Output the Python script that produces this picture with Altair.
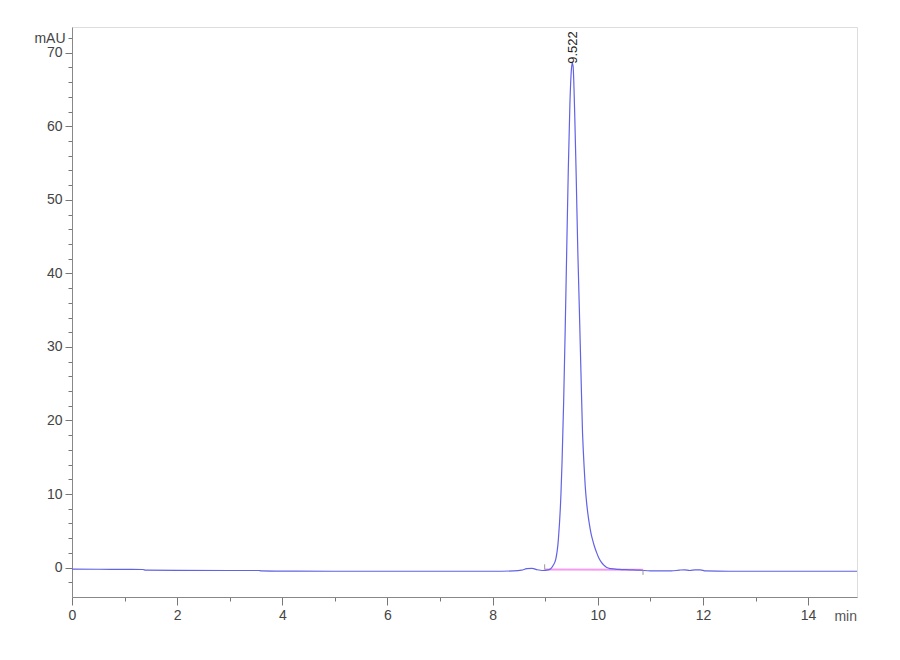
import altair as alt
import pandas as pd

# Chromatogram trace (time in min, absorbance in mAU)
time_min = [0.0, 0.5, 1.0, 1.35, 1.4, 2.0, 3.0, 3.55, 3.6, 4.0, 5.0, 6.0, 7.0, 8.0,
            8.4, 8.55, 8.65, 8.75, 8.85, 8.95, 9.0, 9.05, 9.10, 9.15, 9.20, 9.25,
            9.30, 9.32, 9.35, 9.38, 9.41, 9.44, 9.47, 9.50, 9.515, 9.53, 9.56, 9.59,
            9.62, 9.65, 9.68, 9.71, 9.725, 9.74, 9.76, 9.785, 9.81, 9.84, 9.87, 9.90,
            9.94, 9.98, 10.02, 10.07, 10.12, 10.17, 10.25, 10.4, 10.6, 10.8, 11.0,
            11.4, 11.55, 11.65, 11.75, 11.85, 11.95, 12.05, 12.5, 13.5, 14.93]
mau = [-0.22, -0.23, -0.25, -0.26, -0.35, -0.37, -0.40, -0.40, -0.45, -0.48, -0.50,
       -0.50, -0.50, -0.50, -0.45, -0.35, -0.15, -0.10, -0.30, -0.40, -0.38, -0.32,
       -0.20, 0.28, 1.1, 3.8, 10.1, 14.3, 22.3, 32.3, 43.5, 54.4, 63.1, 67.9, 68.6,
       68.2, 62.0, 53.0, 43.0, 35.0, 26.5, 18.3, 15.8, 13.7, 11.2, 9.0, 7.4, 5.9,
       4.7, 3.8, 2.8, 2.0, 1.3, 0.7, 0.3, 0.0, -0.15, -0.25, -0.30, -0.35, -0.45,
       -0.45, -0.35, -0.30, -0.40, -0.30, -0.30, -0.45, -0.50, -0.50, -0.50]

# Integration baseline (pink) and peak markers
base_t = [8.99, 10.86]
base_v = [-0.25, -0.30]
marker_t = [8.99, 10.86]
marker_v1 = [-0.25, -0.30]
marker_v2 = [0.45, -1.0]

peak_t = [9.522]
peak_v = [68.5]
peak_label = ["9.522"]

FONT = "Liberation Sans Narrow, Arial Narrow, Liberation Sans, sans-serif"
XMAX = 14.93
YMIN, YMAX = -4, 73.5

trace = pd.DataFrame({"t": time_min, "v": mau})
base = pd.DataFrame({"t": base_t, "v": base_v})
markers = pd.DataFrame({"t": marker_t, "v1": marker_v1, "v2": marker_v2})
peaks = pd.DataFrame({"t": peak_t, "v": peak_v, "label": peak_label})
unit = pd.DataFrame({"t": [XMAX], "v": [YMIN], "label": ["min"]})

x_ticks = [i * 0.5 for i in range(0, 30)]
y_ticks = [i * 2 for i in range(-1, 37)]

xscale = alt.Scale(domain=[0, XMAX], nice=False, zero=False)
yscale = alt.Scale(domain=[YMIN, YMAX], nice=False, zero=False)

x_axis = alt.Axis(
    values=x_ticks, tickCount=200, title=None, grid=False, format="d",
    labelExpr="datum.value % 2 == 0 ? datum.label : ''",
    tickSize={"condition": {"test": "datum.value % 2 == 0", "value": 8}, "value": 4},
    tickColor="#777", domainColor="#888", labelColor="#444",
    labelFont=FONT, labelFontSize=14, labelPadding=3, labelFlush=False,
    labelOverlap=False,
)
y_axis = alt.Axis(
    values=y_ticks, tickCount=200, title=None, grid=False, format="d",
    labelExpr="datum.value == 72 ? 'mAU' : (datum.value % 10 == 0 ? datum.label : '')",
    tickSize={"condition": {"test": "datum.value % 10 == 0", "value": 7}, "value": 4},
    tickColor="#777", domainColor="#888", labelColor="#444",
    labelFont=FONT, labelFontSize=14, labelPadding=3, labelOverlap=False,
)

line = alt.Chart(trace).mark_line(color="#6262e6", strokeWidth=1.2, interpolate="monotone").encode(
    x=alt.X("t:Q", scale=xscale, axis=x_axis),
    y=alt.Y("v:Q", scale=yscale, axis=y_axis),
)

baseline = alt.Chart(base).mark_line(color="#f59af0", strokeWidth=2).encode(
    x=alt.X("t:Q", scale=xscale),
    y=alt.Y("v:Q", scale=yscale),
)

ticks = alt.Chart(markers).mark_rule(color="#999", strokeWidth=1).encode(
    x=alt.X("t:Q", scale=xscale),
    y=alt.Y("v1:Q", scale=yscale),
    y2="v2:Q",
)

plabel = alt.Chart(peaks).mark_text(
    angle=270, align="left", baseline="middle", font="Liberation Sans, sans-serif",
    fontSize=13, color="#222",
).encode(
    x=alt.X("t:Q", scale=xscale),
    y=alt.Y("v:Q", scale=yscale),
    text="label:N",
)

ulabel = alt.Chart(unit).mark_text(
    align="right", baseline="top", dy=13, font=FONT, fontSize=14, color="#555",
).encode(
    x=alt.X("t:Q", scale=xscale),
    y=alt.Y("v:Q", scale=yscale),
    text="label:N",
)

chart = alt.layer(baseline, line, ticks, plabel, ulabel).properties(
    width=785, height=570,
    autosize=alt.AutoSizeParams(type="none"),
    padding={"left": 64, "top": 19, "right": 35, "bottom": 45},
).configure_view(stroke=None).configure(background="white")

chart.save("out.html", embed_options={"renderer": "svg", "actions": False})
